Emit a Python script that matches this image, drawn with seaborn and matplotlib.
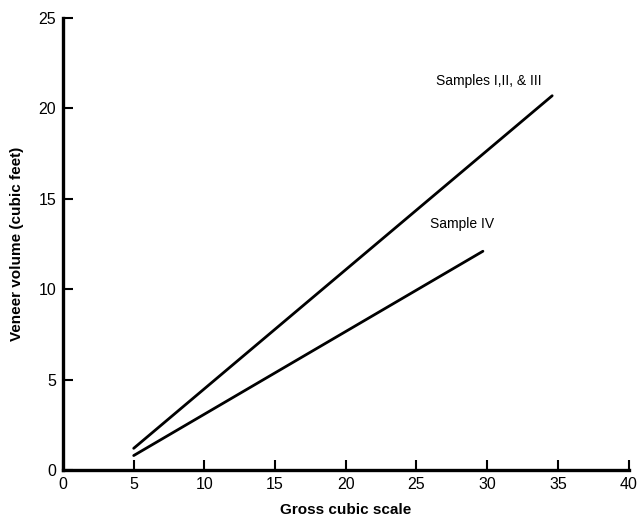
import pandas as pd
import matplotlib.pyplot as plt
import seaborn as sns

# values
groups = ['Samples I,II, & III', 'Samples I,II, & III', 'Sample IV', 'Sample IV']
gross_cubic = [5.0, 34.6, 5.0, 29.7]
veneer_volume = [1.2, 20.7, 0.8, 12.1]

x_ticks = [0, 5, 10, 15, 20, 25, 30, 35, 40]
y_ticks = [0, 5, 10, 15, 20, 25]

df = pd.DataFrame({'group': groups, 'gross': gross_cubic, 'veneer': veneer_volume})

sns.set_style('ticks')
plt.rcParams['font.family'] = ['Liberation Sans', 'DejaVu Sans']

fig = plt.figure(figsize=(6.39, 5.23), dpi=100)
ax = fig.add_axes([0.0986, 0.1013, 0.885, 0.8643])

sns.lineplot(data=df, x='gross', y='veneer', units='group', estimator=None,
             color='black', linewidth=2.0, ax=ax, legend=False)

ax.set_xlim(0, 40)
ax.set_ylim(0, 25)
ax.set_xticks(x_ticks)
ax.set_yticks(y_ticks)
ax.tick_params(direction='in', length=7, width=1.5, labelsize=11.5, pad=5,
               colors='black')
for s in ['top', 'right']:
    ax.spines[s].set_visible(False)
for s in ['left', 'bottom']:
    ax.spines[s].set_linewidth(2.4)
    ax.spines[s].set_color('black')

ax.set_xlabel('Gross cubic scale', fontsize=11, fontweight='bold', labelpad=8,
              color='black')
ax.set_ylabel('Veneer volume (cubic feet)', fontsize=11, fontweight='bold',
              labelpad=10, color='black')

# line labels
ax.text(30.1, 21.5, 'Samples I,II, & III', fontsize=10, ha='center', va='center',
        color='black')
ax.text(28.2, 13.6, 'Sample IV', fontsize=10, ha='center', va='center',
        color='black')

fig.savefig('out.png', dpi=100)
